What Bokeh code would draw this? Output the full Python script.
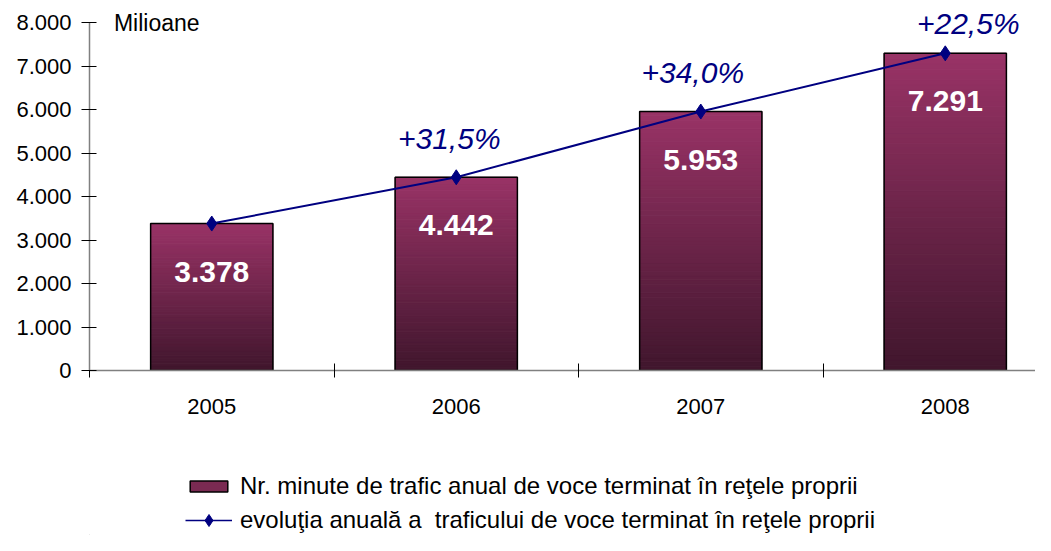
from bokeh.plotting import figure
from bokeh.layouts import column
from bokeh.models import (ColumnDataSource, Range1d, FixedTicker, Label, Legend, LegendItem)
from bokeh.core.properties import value
from bokeh.embed import file_html
from bokeh.resources import INLINE

# ---- data ----
years = ["2005", "2006", "2007", "2008"]
minutes = [3378, 4442, 5953, 7291]           # milioane minute
growth_labels = ["", "+31,5%", "+34,0%", "+22,5%"]
y_ticks = [0, 1000, 2000, 3000, 4000, 5000, 6000, 7000, 8000]
legend_labels = ["Nr. minute de trafic anual de voce terminat în reţele proprii",
                 "evoluţia anuală a  traficului de voce terminat în reţele proprii"]

FONT = "Liberation Sans"
xs = list(range(1, len(years) + 1))
BAR_MID = "#7a2a52"
NAVY = "#000080"

PX_PER_UNIT = 348 / 8000.0
TOP_PAD = 22 / PX_PER_UNIT

p = figure(width=1035, height=445, output_backend="svg", toolbar_location=None,
           x_range=Range1d(0.5, 4.369), y_range=Range1d(0, y_ticks[-1] + TOP_PAD),
           min_border_left=89, min_border_top=0, min_border_bottom=75,
           min_border_right=0)
p.outline_line_color = None
p.grid.visible = False
p.background_fill_color = "white"

# gradient bars (slices along each bar's own height)
N = 60
top_c = (153, 51, 102)
bot_c = (64, 22, 45)
sx, sb, st, sc = [], [], [], []
for x, v in zip(xs, minutes):
    for i in range(N):
        t = (i + 0.5) / N
        c = tuple(int(round(bot_c[k] + (top_c[k] - bot_c[k]) * t)) for k in range(3))
        sx.append(x)
        sb.append(v * i / N)
        st.append(v * (i + 1) / N)
        sc.append("#%02x%02x%02x" % c)
p.vbar(x=sx, bottom=sb, top=st, width=0.5, fill_color=sc, line_color=sc, line_width=1)
p.vbar(x=xs, top=minutes, width=0.5, fill_alpha=0, line_color="black", line_width=1.5)

# line
p.line(xs, minutes, line_color=NAVY, line_width=2)
p.scatter(xs, minutes, marker="diamond", size=15, fill_color=NAVY, line_color=NAVY)

# value labels inside bars
p.text(x=xs, y=minutes, text=[f"{v:,}".replace(",", ".") for v in minutes],
       text_color="white", text_font=value(FONT), text_font_style="bold",
       text_font_size="30px", text_align="center", text_baseline="middle", y_offset=48)

# growth labels
gsrc = ColumnDataSource(dict(x=xs, y=minutes, t=growth_labels,
                             xo=[0, -7, -8, 23], yo=[-22, -22, -23, -13]))
p.text(x="x", y="y", text="t", x_offset="xo", y_offset="yo", source=gsrc,
       text_color=NAVY, text_font=value(FONT), text_font_style="italic",
       text_font_size="30px", text_align="center", text_baseline="bottom")

# axes
ya = p.yaxis[0]
ya.ticker = FixedTicker(ticks=y_ticks, minor_ticks=[])
ya.bounds = (0, y_ticks[-1])
ya.major_label_overrides = {t: f"{t:,}".replace(",", ".") for t in y_ticks}
ya.axis_line_color = "#808080"
ya.axis_line_width = 1.5
ya.major_tick_line_color = "black"
ya.major_tick_in = 7
ya.major_tick_out = 8
ya.major_label_standoff = 10
ya.major_label_text_font = FONT
ya.major_label_text_font_size = "22px"
ya.major_label_text_color = "black"

xa = p.xaxis[0]
xa.ticker = FixedTicker(ticks=xs, minor_ticks=[x + 0.5 for x in range(0, len(xs) + 1)])
xa.major_label_overrides = {x: y for x, y in zip(xs, years)}
xa.axis_line_color = "#808080"
xa.axis_line_width = 1.5
xa.major_tick_in = 0
xa.major_tick_out = 0
xa.minor_tick_line_color = "black"
xa.minor_tick_in = 7
xa.minor_tick_out = 7
xa.major_label_standoff = 21
xa.major_label_text_font = FONT
xa.major_label_text_font_size = "22px"
xa.major_label_text_color = "black"

p.add_layout(Label(x=0.6, y=y_ticks[-1], text="Milioane", text_font=FONT, text_font_size="23px",
                   text_baseline="middle", text_color="black"))

# ---- legend figure ----
lf = figure(width=1035, height=90, output_backend="svg", toolbar_location=None,
            x_range=Range1d(0, 1), y_range=Range1d(0, 1),
            x_axis_location=None, y_axis_location=None,
            min_border=0, min_border_left=0, min_border_right=0,
            min_border_top=0, min_border_bottom=0)
lf.grid.visible = False
lf.outline_line_color = None
r_bar = lf.vbar(x=[-5], top=[-5], width=0.5, fill_color=BAR_MID, line_color="black", line_width=1.5)
r_ln = lf.line(x=[-5, -4], y=[-5, -5], line_color=NAVY, line_width=1.5)
r_mk = lf.scatter(x=[-5], y=[-5], marker="diamond", size=13, fill_color=NAVY, line_color=NAVY)

common = dict(orientation="vertical", glyph_width=47, label_standoff=8, label_height=24,
              padding=0, margin=0, border_line_alpha=0, background_fill_alpha=0,
              label_text_font=FONT, label_text_font_size="24px", label_text_color="black")
leg1 = Legend(items=[LegendItem(label=legend_labels[0], renderers=[r_bar])],
              location=(96, 35), glyph_height=14, **common)
leg2 = Legend(items=[LegendItem(label=legend_labels[1], renderers=[r_ln, r_mk])],
              location=(96, 0), glyph_height=30, **common)
lf.add_layout(leg1)
lf.add_layout(leg2)

layout = column(p, lf, spacing=0)
open("out.html", "w").write(file_html(layout, INLINE))
